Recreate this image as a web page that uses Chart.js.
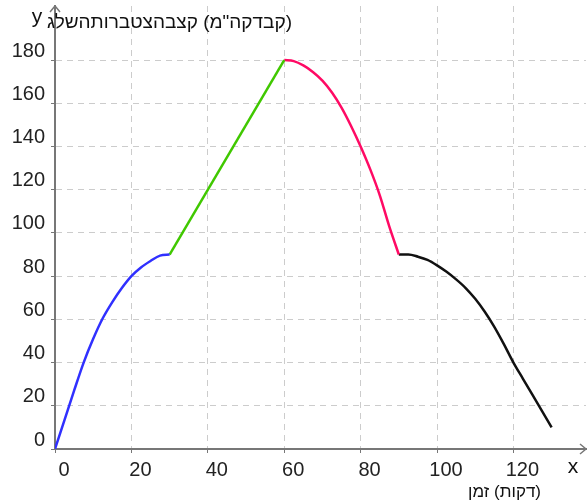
<!DOCTYPE html>
<html lang="he">
<head>
<meta charset="UTF-8">
<title>snow</title>
<style>
  body { margin: 0; background: #fff; }
</style>
</head>
<body>
<canvas id="snowChart" width="588" height="504"></canvas>
<script src="https://cdn.jsdelivr.net/npm/chart.js"></script>
<script>
// values
const blueX = [0, 2.5, 5, 7.5, 10, 12.5, 15, 17.5, 20, 22.5, 25, 27.5, 30]
const blueY = [0, 13.5, 27, 40, 51, 60.5, 68, 74.5, 80, 84, 87, 89.5, 90]
const greenX = [30, 60]
const greenY = [90, 180]
const redX = [60, 62.5, 65, 67.5, 70, 72.5, 75, 77.5, 80, 82.5, 85, 87.5, 90]
const redY = [180, 179.5, 177.5, 174.5, 170.5, 165, 158, 149.5, 140, 129.5, 117.5, 103, 90]
const blackX = [90, 92.5, 95, 97.5, 100, 102.5, 105, 107.5, 110, 112.5, 115, 117.5, 120, 122.5, 125, 127.5, 130]
const blackY = [90, 90, 89, 87.5, 85, 82, 78.5, 74.5, 69.5, 63.5, 56.5, 48.5, 40, 32.5, 25, 17.5, 10]
const xTicks = [0, 20, 40, 60, 80, 100, 120]
const yTicks = [0, 20, 40, 60, 80, 100, 120, 140, 160, 180]
const yTitle = '(קבדקה"מ) קצבהצטברותהשלג'
const xTitle = '(דקות) זמן'

function pts(xs, ys) {
    return xs.map((x, i) => ({ x: x, y: ys[i] }))
}

function segment(xs, ys, color) {
    return {
        data: pts(xs, ys),
        borderColor: color,
        borderWidth: 2.5,
        pointRadius: 0,
        showLine: true,
        cubicInterpolationMode: 'monotone',
        fill: false
    }
}

// arrows + axis words
const decorations = {
    id: 'decorations',
    afterDraw(chart) {
        const ctx = chart.ctx
        const a = chart.chartArea
        ctx.save()
        ctx.strokeStyle = '#777'
        ctx.lineWidth = 1.5
        ctx.beginPath()
        ctx.moveTo(a.left - 5, a.top + 6)
        ctx.lineTo(a.left, a.top)
        ctx.lineTo(a.left + 5, a.top + 6)
        ctx.moveTo(a.right - 6, a.bottom - 5)
        ctx.lineTo(a.right, a.bottom)
        ctx.lineTo(a.right - 6, a.bottom + 5)
        ctx.stroke()

        ctx.fillStyle = '#111'
        ctx.textBaseline = 'middle'
        ctx.font = '21px "Liberation Sans", Arial, sans-serif'
        ctx.textAlign = 'center'
        ctx.fillText('y', a.left - 18, a.top + 11)
        ctx.fillText('x', a.right - 13, a.bottom + 18)
        ctx.direction = 'rtl'
        ctx.textAlign = 'right'
        ctx.font = '19px "Liberation Sans", Arial, sans-serif'
        ctx.fillText(yTitle, 292, a.top + 17)
        ctx.font = '17px "Liberation Sans", Arial, sans-serif'
        ctx.fillText(xTitle, 541, a.bottom + 43)
        ctx.restore()
    }
}

const noPad = s => {
    s.paddingTop = 0
    s.paddingBottom = 0
    s.paddingLeft = 0
    s.paddingRight = 0
}

const tickFont = { size: 20, family: '"Liberation Sans", Arial, sans-serif' }

const ctx = document.getElementById('snowChart').getContext('2d')
new Chart(ctx, {
    type: 'scatter',
    data: {
        datasets: [
            segment(blueX, blueY, '#3030ff'),
            segment(greenX, greenY, '#40c800'),
            segment(redX, redY, '#ff0a64'),
            segment(blackX, blackY, '#111111')
        ]
    },
    options: {
        responsive: false,
        animation: false,
        layout: { padding: { top: 6, right: 2, left: 0, bottom: 0 } },
        plugins: { legend: { display: false }, tooltip: { enabled: false } },
        scales: {
            x: {
                type: 'linear',
                min: 0,
                max: 139,
                afterBuildTicks: s => { s.ticks = xTicks.map(v => ({ value: v })) },
                afterFit: s => { s.height = 55; noPad(s) },
                grid: { color: '#cccccc', tickLength: 4, tickColor: '#777' },
                border: { color: '#777', width: 2, dash: [6, 5] },
                ticks: {
                    color: '#222',
                    font: tickFont,
                    padding: 5,
                    labelOffset: 9,
                    maxRotation: 0,
                    autoSkip: false
                }
            },
            y: {
                type: 'linear',
                min: 0,
                max: 205,
                afterBuildTicks: s => { s.ticks = yTicks.map(v => ({ value: v })) },
                afterFit: s => { s.width = 55; noPad(s) },
                grid: { color: '#cccccc', tickLength: 4, tickColor: '#777' },
                border: { color: '#777', width: 2, dash: [6, 5] },
                ticks: {
                    color: '#222',
                    font: tickFont,
                    padding: 6,
                    labelOffset: -9,
                    autoSkip: false
                }
            }
        }
    },
    plugins: [decorations]
})
</script>
</body>
</html>
